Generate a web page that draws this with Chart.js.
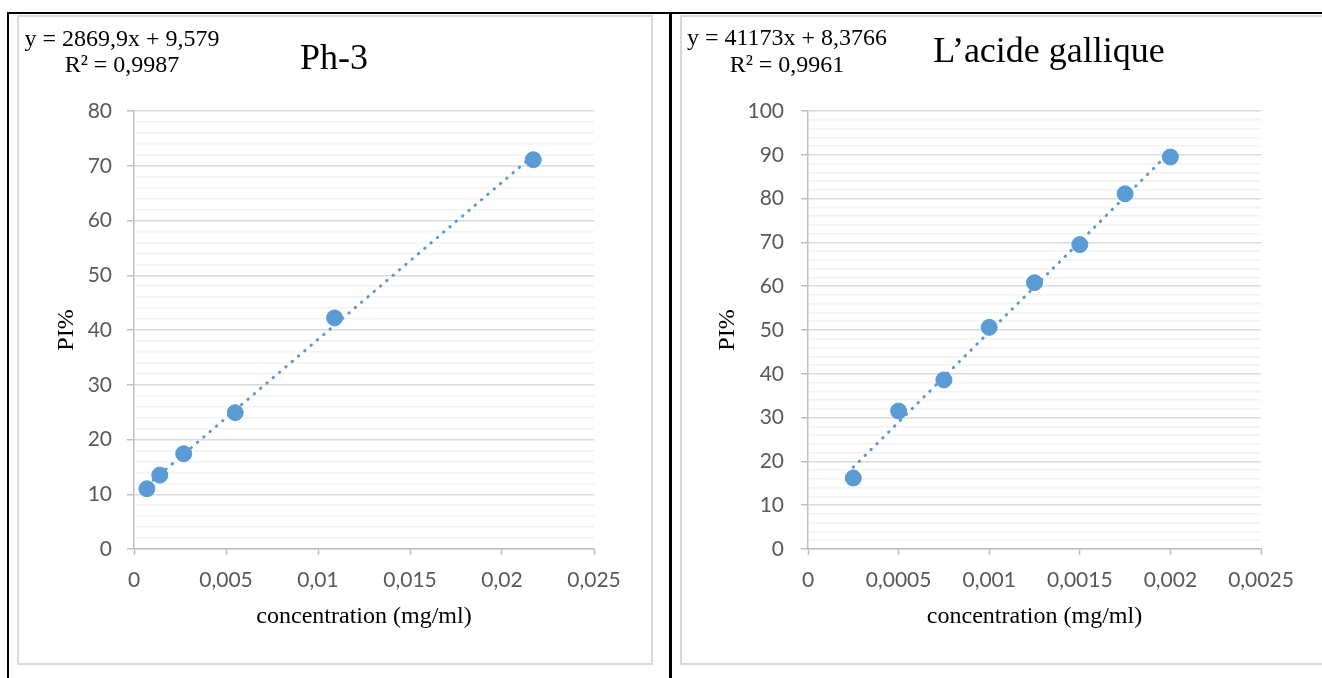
<!DOCTYPE html>
<html>
<head>
<meta charset="utf-8">
<script src="https://cdn.jsdelivr.net/npm/chart.js@4.4.0/dist/chart.umd.min.js"></script>
<style>
html, body { margin:0; padding:0; background:#ffffff; overflow:hidden }
body { width:1322px; height:678px; position:relative }
#frame { position:absolute; left:7px; top:12px; width:2000px; height:2000px; border-top:2px solid #000; border-left:2px solid #000 }
#divider { position:absolute; left:669px; top:12px; width:3px; height:700px; background:#000 }
.box { position:absolute; top:15px; height:646px; border:2px solid #d9d9d9; background:#fff }
#box_aa { left:17px; width:632px }
#box_bb { left:680px; width:734px }
canvas { display:block }
</style>
</head>
<body>
<div id="frame"></div>
<div id="divider"></div>
<div class="box" id="box_aa"><canvas id="chart_aa" width="632" height="646"></canvas></div>
<div class="box" id="box_bb"><canvas id="chart_bb" width="734" height="646"></canvas></div>

<script>
// ----------------------------------------------------------------------
//	Ph-3 / acide gallique : PI% vs concentration
// ----------------------------------------------------------------------
const conc_ph3 = [0.0007, 0.0014, 0.0027, 0.0055, 0.0109, 0.0217]
const pi_ph3 = [11.0, 13.5, 17.4, 24.9, 42.2, 71.1]
const x_labels_ph3 = ["0", "0,005", "0,01", "0,015", "0,02", "0,025"]
const y_labels_ph3 = ["0", "10", "20", "30", "40", "50", "60", "70", "80"]
const trend_ph3 = [2869.9, 9.579]		// slope, intercept
const eq_ph3 = ["y = 2869,9x + 9,579", "R\u00b2 = 0,9987"]

const conc_gallique = [0.00025, 0.0005, 0.00075, 0.001, 0.00125, 0.0015, 0.00175, 0.002]
const pi_gallique = [16.2, 31.5, 38.6, 50.6, 60.8, 69.5, 81.1, 89.5]
const x_labels_gallique = ["0", "0,0005", "0,001", "0,0015", "0,002", "0,0025"]
const y_labels_gallique = ["0", "10", "20", "30", "40", "50", "60", "70", "80", "90", "100"]
const trend_gallique = [41173, 8.3766]
const eq_gallique = ["y = 41173x + 8,3766", "R\u00b2 = 0,9961"]

const serif = "'Liberation Serif', 'Times New Roman', serif"
const sans = "Lato, 'Open Sans', sans-serif"
const blue = "#5b9bd5"

// ----------------------------------------------------------------------
const notes_plugin = {
	id: 'notes',
	afterDraw (chart, args, opts)
		{
		const ctx = chart.ctx
		ctx.save()
		ctx.fillStyle = "#000000"
		ctx.textBaseline = "alphabetic"
		for (const it of opts.items)
			{
			ctx.font = it.font
			ctx.textAlign = "center"
			ctx.fillText (it.text, it.x, it.y)
			}
		ctx.restore()
		}
}

// ----------------------------------------------------------------------
function trend_points (conc, coef)
{
	const x0 = Math.min (...conc)
	const x1 = Math.max (...conc)
	return [{x: x0, y: coef[0] * x0 + coef[1]}, {x: x1, y: coef[0] * x1 + coef[1]}]
}

// ----------------------------------------------------------------------
function draw_chart (id, pp)
{
	const points = pp.conc.map ((cc, ii) => ({x: cc, y: pp.pi[ii]}))

	const config = {
		type: 'scatter',
		data: {
			datasets: [
				{
				data: points,
				backgroundColor: blue,
				borderColor: blue,
				pointRadius: 8,
				pointHoverRadius: 8,
				order: 0
				},
				{
				data: trend_points (pp.conc, pp.coef),
				showLine: true,
				pointRadius: 0,
				borderColor: blue,
				borderWidth: 3,
				borderDash: [0.5, 7.8],
				borderCapStyle: 'round',
				order: 1
				}
			]
		},
		options: {
			responsive: false,
			devicePixelRatio: 1,
			animation: false,
			layout: { padding: { left: 0, top: 94, right: pp.pad_right, bottom: 0 } },
			plugins: {
				legend: { display: false },
				tooltip: { enabled: false },
				notes: { items: pp.notes }
			},
			scales: {
				x: {
					type: 'linear',
					min: 0,
					max: pp.x_max,
					afterFit: (sc) => { sc.height = 114 },
					border: { color: "#bfbfbf", width: 1.5 },
					grid: { drawOnChartArea: false, tickLength: 6, tickColor: "#bfbfbf", tickWidth: 1.5 },
					ticks: {
						stepSize: pp.x_max / 5,
						autoSkip: false,
						maxRotation: 0,
						padding: 13,
						color: "#595959",
						font: { family: sans, size: 21 },
						callback: (value, index) => pp.x_labels[index]
					},
					title: {
						display: true,
						text: "concentration (mg/ml)",
						color: "#000000",
						font: { family: serif, size: 24 },
						padding: { top: 0, bottom: 32 }
					}
				},
				y: {
					type: 'linear',
					min: 0,
					max: pp.y_max,
					afterFit: (sc) => { sc.width = pp.y_width },
					border: { color: "#bfbfbf", width: 1.5 },
					grid: {
						lineWidth: 1.5,
						tickLength: 7,
						tickWidth: 1.5,
						color: (c) => (c.index % 5 === 0) ? "#d9d9d9" : "#f2f2f2",
						tickColor: (c) => (c.index % 5 === 0) ? "#bfbfbf" : "rgba(0,0,0,0)"
					},
					ticks: {
						stepSize: 2,
						autoSkip: false,
						padding: pp.y_pad,
						color: "#595959",
						font: { family: sans, size: 21 },
						callback: (value, index) => (index % 5 === 0) ? pp.y_labels[index / 5] : ""
					},
					title: {
						display: true,
						text: "PI%",
						color: "#000000",
						font: { family: serif, size: 24 },
						padding: { top: pp.y_title_pad, bottom: 0 }
					}
				}
			}
		},
		plugins: [notes_plugin]
	}

	return new Chart (document.getElementById (id), config)
}

// ----------------------------------------------------------------------
draw_chart ("chart_aa", {
	conc: conc_ph3,
	pi: pi_ph3,
	coef: trend_ph3,
	x_labels: x_labels_ph3,
	y_labels: y_labels_ph3,
	x_max: 0.025,
	y_max: 80,
	y_width: 115,
	y_pad: 15,
	y_title_pad: 33,
	pad_right: 57,
	notes: [
		{ text: eq_ph3[0], x: 103, y: 29, font: "24px " + serif },
		{ text: eq_ph3[1], x: 103, y: 55, font: "24px " + serif },
		{ text: "Ph-3", x: 315, y: 52, font: "36px " + serif }
	]
})

draw_chart ("chart_bb", {
	conc: conc_gallique,
	pi: pi_gallique,
	coef: trend_gallique,
	x_labels: x_labels_gallique,
	y_labels: y_labels_gallique,
	x_max: 0.0025,
	y_max: 100,
	y_width: 126,
	y_pad: 17,
	y_title_pad: 31,
	pad_right: 155,
	notes: [
		{ text: eq_gallique[0], x: 105, y: 28, font: "24px " + serif },
		{ text: eq_gallique[1], x: 105, y: 55, font: "24px " + serif },
		{ text: "L\u2019acide gallique", x: 367, y: 45, font: "36px " + serif }
	]
})

// ----------------------------------------------------------------------
</script>
</body>
</html>
